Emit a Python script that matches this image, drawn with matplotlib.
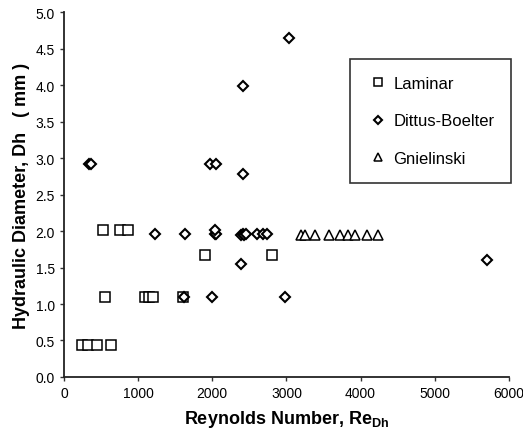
import numpy as np
import matplotlib.pyplot as plt

plt.rcParams['font.family'] = ['Liberation Sans', 'DejaVu Sans']
plt.rcParams['mathtext.fontset'] = 'custom'
plt.rcParams['mathtext.bf'] = 'Liberation Sans:bold'
plt.rcParams['mathtext.rm'] = 'Liberation Sans'

# Laminar
lam_re = [240, 330, 440, 630, 550, 1090, 1150, 1200, 1600, 520, 760, 860, 1900, 2800]
lam_dh = [0.44, 0.44, 0.44, 0.44, 1.1, 1.1, 1.1, 1.1, 1.1, 2.02, 2.02, 2.02, 1.67, 1.67]

# Dittus-Boelter
db_re = [340, 360, 1970, 2050, 2410, 2410, 3040, 1230, 1630, 2030, 2050, 2040,
         2390, 2410, 2430, 2450, 2600, 2680, 2740, 2390, 1990, 1620, 2980, 5710]
db_dh = [2.92, 2.92, 2.92, 2.92, 3.99, 2.78, 4.64, 1.96, 1.96, 1.96, 1.96, 2.02,
         1.95, 1.96, 1.95, 1.96, 1.96, 1.96, 1.96, 1.55, 1.1, 1.1, 1.1, 1.6]

# Gnielinski
gn_re = [3200, 3250, 3380, 3570, 3720, 3830, 3920, 4090, 4240]
gn_dh = [1.95] * len(gn_re)

fig = plt.figure(figsize=(5.23, 4.39), dpi=100)
ax = fig.add_axes([0.1224, 0.139, 0.8506, 0.831])

ax.plot(lam_re, lam_dh, 's', ms=7, mfc='white', mec='black', mew=1.1, ls='none', label='Laminar')
ax.plot(db_re, db_dh, 'D', ms=5.3, mfc='white', mec='black', mew=1.5, ls='none', label='Dittus-Boelter')
ax.plot(gn_re, gn_dh, '^', ms=7.5, mfc='white', mec='black', mew=1.1, ls='none', label='Gnielinski')

ax.set_xlim(0, 6000)
ax.set_ylim(0, 5.0)
ax.set_xticks(np.arange(0, 6001, 1000))
ax.set_yticks(np.arange(0, 5.01, 0.5))
ax.set_yticklabels(['%.1f' % v for v in np.arange(0, 5.01, 0.5)])
ax.tick_params(labelsize=10, length=3, width=1, direction='out', color='#333333')
ax.spines['top'].set_visible(False)
ax.spines['right'].set_visible(False)
for s in ['left', 'bottom']:
    ax.spines[s].set_linewidth(1.3)
    ax.spines[s].set_color('#222222')

ax.set_xlabel(r'Reynolds Number, Re$_{\mathbf{Dh}}$', fontsize=13, fontweight='bold', labelpad=6)
ax.set_ylabel('Hydraulic Diameter, Dh   ( mm )', fontsize=13, fontweight='bold', labelpad=4)

leg = ax.legend(loc='upper left', bbox_to_anchor=(0.643, 0.871), fontsize=12,
                frameon=True, fancybox=False, edgecolor='black', labelspacing=1.35,
                handletextpad=0.2, borderpad=1.0, handlelength=1.4, markerscale=0.85,
                borderaxespad=0)
leg.get_frame().set_linewidth(1.2)

fig.savefig('out.png', dpi=100)
